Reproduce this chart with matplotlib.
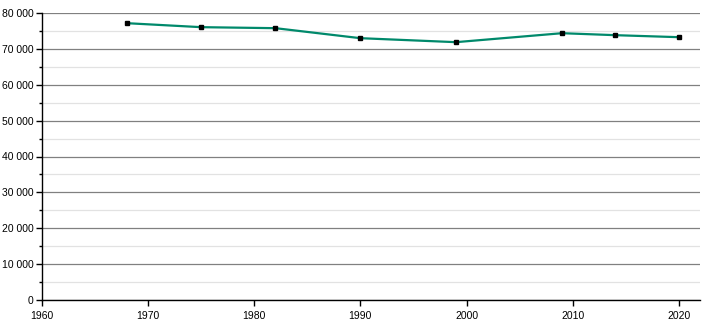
import matplotlib.pyplot as plt
from matplotlib.ticker import MultipleLocator, FuncFormatter

# Population par recensement
years = [1968, 1975, 1982, 1990, 1999, 2009, 2014, 2020]
population = [77160, 76050, 75770, 72980, 71870, 74370, 73820, 73260]

plt.rcParams['font.family'] = ['Liberation Sans', 'DejaVu Sans']

fig = plt.figure(figsize=(7.1, 3.2), dpi=100)
ax = fig.add_axes([42 / 710, 20 / 320, 658 / 710, 287 / 320])

ax.plot(years, population, color='#00896b', linewidth=1.6, zorder=3)
ax.plot(years, population, linestyle='none', marker='s', markersize=3.5,
        color='black', zorder=4)

ax.set_xlim(1960, 2022)
ax.set_ylim(0, 80000)

ax.xaxis.set_major_locator(MultipleLocator(10))
ax.yaxis.set_major_locator(MultipleLocator(10000))
ax.yaxis.set_minor_locator(MultipleLocator(5000))
ax.yaxis.set_major_formatter(FuncFormatter(lambda v, p: f"{int(v):,}".replace(",", " ")))

ax.grid(which='major', axis='y', color='#808080', linewidth=0.9)
ax.grid(which='minor', axis='y', color='#e2e2e2', linewidth=0.9)
ax.set_axisbelow(True)

for s in ['top', 'right']:
    ax.spines[s].set_visible(False)
for s in ['left', 'bottom']:
    ax.spines[s].set_color('black')
    ax.spines[s].set_linewidth(1)

ax.tick_params(axis='both', which='major', labelsize=7.5, length=4, width=1, pad=2)
ax.tick_params(axis='x', which='major', pad=4)
ax.tick_params(axis='y', which='minor', length=2, width=1)

plt.savefig("out.png", dpi=100)
